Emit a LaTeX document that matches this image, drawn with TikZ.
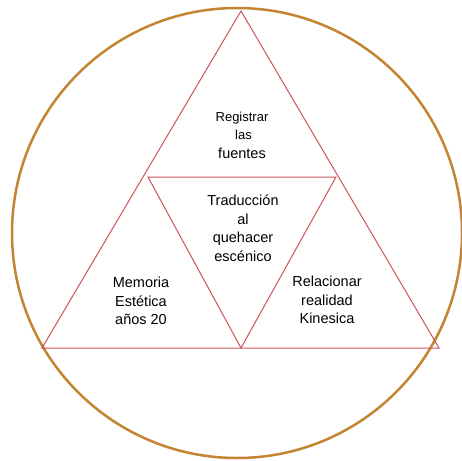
\documentclass[tikz,border=0pt]{standalone}
\usepackage{fontspec}
\setmainfont{Liberation Sans}
\definecolor{ring}{HTML}{C38532}
\definecolor{tri}{HTML}{C8565A}
\begin{document}
\begin{tikzpicture}[x=1pt,y=-1pt,
  lbl/.style={align=center,font=\fontsize{14.5}{18.5}\selectfont,text=black},
  edge/.style={draw=tri,line width=1pt}]
\useasboundingbox (0,0) rectangle (462,460);
\fill[white] (0,0) rectangle (462,460);
\draw[ring,line width=2.5pt] (237,233) circle (225);
\coordinate (A) at (241,11);
\coordinate (L) at (42,348);
\coordinate (R) at (439,348);
\coordinate (P) at (148,177);
\coordinate (Q) at (336,177);
\coordinate (M) at (241,348);
\draw[edge] (A) -- (L) -- (R) -- cycle;
\draw[edge] (P) -- (Q) -- (M) -- cycle;
\node[lbl] (t1) at (242,135) {{\fontsize{13}{18.5}\selectfont Registrar}\\\hspace{3pt}{\fontsize{13}{18.5}\selectfont las}\\fuentes};
\node[lbl] (t2) at (243,228) {Traducción\\al\\quehacer\\escénico};
\node[lbl] (t3) at (141,301) {Memoria\\Estética\\años 20};
\node[lbl] (t4) at (327,300) {Relacionar\\realidad\\Kinesica};
\end{tikzpicture}
\end{document}
